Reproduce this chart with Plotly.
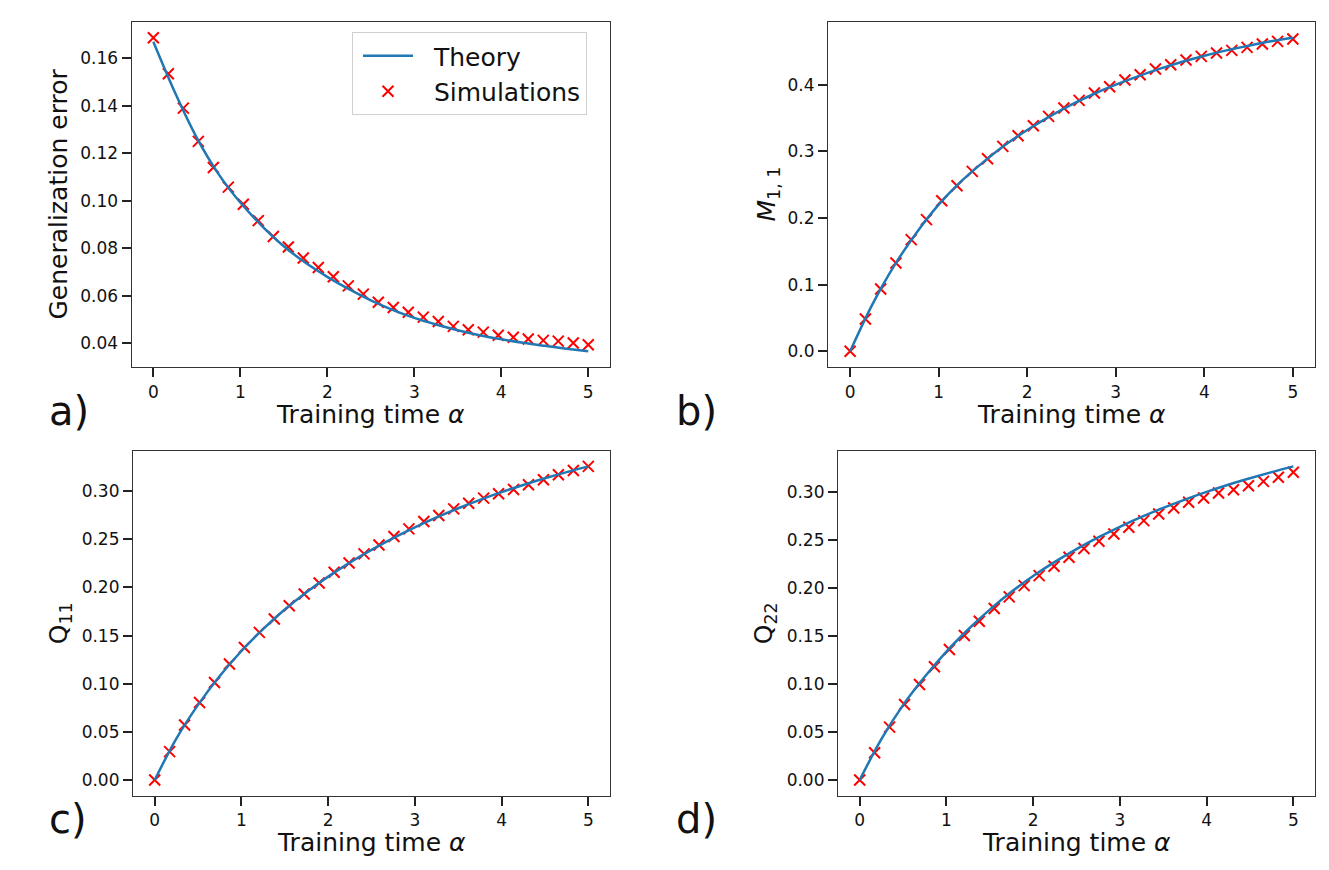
import plotly.graph_objects as go

# simulation sample times (30 points) and theory curve times
sim_alpha = [0.0, 0.1724, 0.3448, 0.5172, 0.6897, 0.8621, 1.0345, 1.2069, 1.3793, 1.5517,
             1.7241, 1.8966, 2.0690, 2.2414, 2.4138, 2.5862, 2.7586, 2.9310, 3.1034, 3.2759,
             3.4483, 3.6207, 3.7931, 3.9655, 4.1379, 4.3103, 4.4828, 4.6552, 4.8276, 5.0]
theory_alpha = [0.0, 0.25, 0.5, 0.75, 1.0, 1.25, 1.5, 1.75, 2.0, 2.25, 2.5,
                2.75, 3.0, 3.25, 3.5, 3.75, 4.0, 4.25, 4.5, 4.75, 5.0]

# a) generalization error
eg_theory = [0.1670, 0.1455, 0.1265, 0.1112, 0.0992, 0.0893, 0.0808, 0.0738, 0.0679, 0.0627, 0.0580,
             0.0540, 0.0506, 0.0478, 0.0454, 0.0433, 0.0416, 0.0401, 0.0388, 0.0376, 0.0365]
eg_sim = [0.1687, 0.1535, 0.1390, 0.1250, 0.1140, 0.1057, 0.0985, 0.0916, 0.0849, 0.0805,
          0.0758, 0.0718, 0.0679, 0.0641, 0.0606, 0.0572, 0.0550, 0.0530, 0.0509, 0.0491,
          0.0470, 0.0456, 0.0446, 0.0433, 0.0424, 0.0417, 0.0411, 0.0408, 0.0400, 0.0393]

# b) M_{1,1}
m11_theory = [0.0, 0.070, 0.129, 0.178, 0.2200, 0.2545, 0.2835, 0.3095, 0.3320, 0.3520, 0.3700,
              0.3860, 0.4000, 0.4125, 0.4240, 0.4345, 0.4435, 0.4515, 0.4585, 0.4650, 0.4705]
m11_sim = [0.0, 0.0485, 0.0935, 0.1325, 0.1675, 0.1975, 0.2260, 0.2485, 0.2700, 0.2890,
           0.3075, 0.3235, 0.3385, 0.3525, 0.3650, 0.3765, 0.3875, 0.3970, 0.4070, 0.4150,
           0.4235, 0.4300, 0.4370, 0.4425, 0.4475, 0.4515, 0.4560, 0.4610, 0.4650, 0.4685]

# c) Q_11
q11_theory = [0.0, 0.0430, 0.0780, 0.1080, 0.1340, 0.1568, 0.1770, 0.1950, 0.2112, 0.2258, 0.2390,
              0.2512, 0.2624, 0.2727, 0.2822, 0.2910, 0.2990, 0.3064, 0.3133, 0.3197, 0.3257]
q11_sim = [0.0, 0.0295, 0.0572, 0.0805, 0.1013, 0.1204, 0.1377, 0.1533, 0.1672, 0.1810,
           0.1932, 0.2046, 0.2157, 0.2254, 0.2348, 0.2441, 0.2528, 0.2608, 0.2684, 0.2747,
           0.2816, 0.2875, 0.2927, 0.2972, 0.3017, 0.3066, 0.3118, 0.3170, 0.3215, 0.3257]

# d) Q_22
q22_theory = [0.0, 0.0425, 0.0780, 0.1075, 0.1338, 0.1568, 0.1775, 0.1960, 0.2125, 0.2272, 0.2405,
              0.2527, 0.2638, 0.2740, 0.2834, 0.2921, 0.3001, 0.3075, 0.3143, 0.3207, 0.3267]
q22_sim = [0.0, 0.0284, 0.0551, 0.0787, 0.0995, 0.1179, 0.1359, 0.1505, 0.1654, 0.1786,
           0.1908, 0.2025, 0.2129, 0.2227, 0.2320, 0.2411, 0.2487, 0.2563, 0.2633, 0.2702,
           0.2771, 0.2834, 0.2893, 0.2938, 0.2990, 0.3024, 0.3066, 0.3111, 0.3153, 0.3205]

W, H = 1329, 870
FONT = "DejaVu Sans"
BLUE = "#1f77b4"
GAP = "\u00a0\u00a0"  # small gap between legend symbol and its text

panels = [
    # theory, sim, y title, panel label, x px range, y px range (top, bottom), y ticks, tick format
    dict(th=eg_theory, sim=eg_sim, ytitle="Generalization error", label="a)",
         xpx=(123.6, 602), ypx=(14, 359), ytick=[0.04, 0.06, 0.08, 0.10, 0.12, 0.14, 0.16], fmt=".2f",
         ytx=50, lab=(39, 403)),
    dict(th=m11_theory, sim=m11_sim, ytitle="<i>M</i><sub>1, 1</sub>", label="b)",
         xpx=(820, 1307), ypx=(14, 359), ytick=[0.0, 0.1, 0.2, 0.3, 0.4], fmt=".1f",
         ytx=760, lab=(666, 403)),
    dict(th=q11_theory, sim=q11_sim, ytitle="Q<sub>11</sub>", label="c)",
         xpx=(125, 602), ypx=(442.7, 787.7), ytick=[0.0, 0.05, 0.10, 0.15, 0.20, 0.25, 0.30], fmt=".2f",
         ytx=52, lab=(39, 811)),
    dict(th=q22_theory, sim=q22_sim, ytitle="Q<sub>22</sub>", label="d)",
         xpx=(830, 1307), ypx=(442.7, 787.7), ytick=[0.0, 0.05, 0.10, 0.15, 0.20, 0.25, 0.30], fmt=".2f",
         ytx=757, lab=(666, 811)),
]

fig = go.Figure()
annotations = []
axis_style = dict(
    showline=True, mirror=True, linecolor="#333333", linewidth=1.2,
    ticks="outside", ticklen=9, tickwidth=1.8, tickcolor="#222222",
    showgrid=False, zeroline=False,
    tickfont=dict(family=FONT, size=17, color="#111111"),
)

for i, p in enumerate(panels, 1):
    xa = "x" if i == 1 else f"x{i}"
    ya = "y" if i == 1 else f"y{i}"
    fig.add_trace(go.Scatter(
        x=sim_alpha, y=p["sim"], mode="markers", xaxis=xa, yaxis=ya,
        name=GAP + "Simulations", showlegend=(i == 1), legendrank=2,
        marker=dict(symbol="x-thin", size=11, line=dict(color="red", width=2), color="red"),
    ))
    fig.add_trace(go.Scatter(
        x=theory_alpha, y=p["th"], mode="lines", xaxis=xa, yaxis=ya,
        name=GAP + "Theory", showlegend=(i == 1), legendrank=1,
        line=dict(color=BLUE, width=2.5, shape="spline"),
    ))

    lo = min(min(p["th"]), min(p["sim"]))
    hi = max(max(p["th"]), max(p["sim"]))
    pad = 0.05 * (hi - lo)
    x0, x1 = p["xpx"]
    yt, yb = p["ypx"]
    key = "" if i == 1 else str(i)
    fig.update_layout({
        f"xaxis{key}": dict(axis_style, domain=[x0 / W, x1 / W], range=[-0.25, 5.25],
                            tickvals=[0, 1, 2, 3, 4, 5], anchor=ya),
        f"yaxis{key}": dict(axis_style, domain=[1 - yb / H, 1 - yt / H], range=[lo - pad, hi + pad],
                            tickvals=p["ytick"], tickformat=p["fmt"], anchor=xa),
    })
    # x title
    annotations.append(dict(
        text="Training time <i>α</i>", xref="paper", yref="paper",
        x=(x0 + x1) / 2 / W, y=1 - (yb + 47) / H, xanchor="center", yanchor="middle",
        showarrow=False, font=dict(family=FONT, size=25, color="#111111"),
    ))
    # y title
    annotations.append(dict(
        text=p["ytitle"], xref="paper", yref="paper", textangle=-90,
        x=p["ytx"] / W, y=1 - (yt + yb) / 2 / H, xanchor="center", yanchor="middle",
        showarrow=False, font=dict(family=FONT, size=25, color="#111111"),
    ))
    # panel letter
    annotations.append(dict(
        text=p["label"], xref="paper", yref="paper",
        x=p["lab"][0] / W, y=1 - p["lab"][1] / H, xanchor="left", yanchor="middle",
        showarrow=False, font=dict(family=FONT, size=40, color="#111111"),
    ))

fig.update_layout(
    width=W, height=H,
    margin=dict(l=0, r=0, t=0, b=0),
    plot_bgcolor="white", paper_bgcolor="white",
    annotations=annotations,
    legend=dict(
        x=344 / W, y=1 - 24 / H, xanchor="left", yanchor="top",
        font=dict(family=FONT, size=25, color="#111111"),
        bgcolor="white", bordercolor="#d0d0d0", borderwidth=1,
        indentation=5, itemwidth=50,
    ),
)

fig.write_html("out.html")
